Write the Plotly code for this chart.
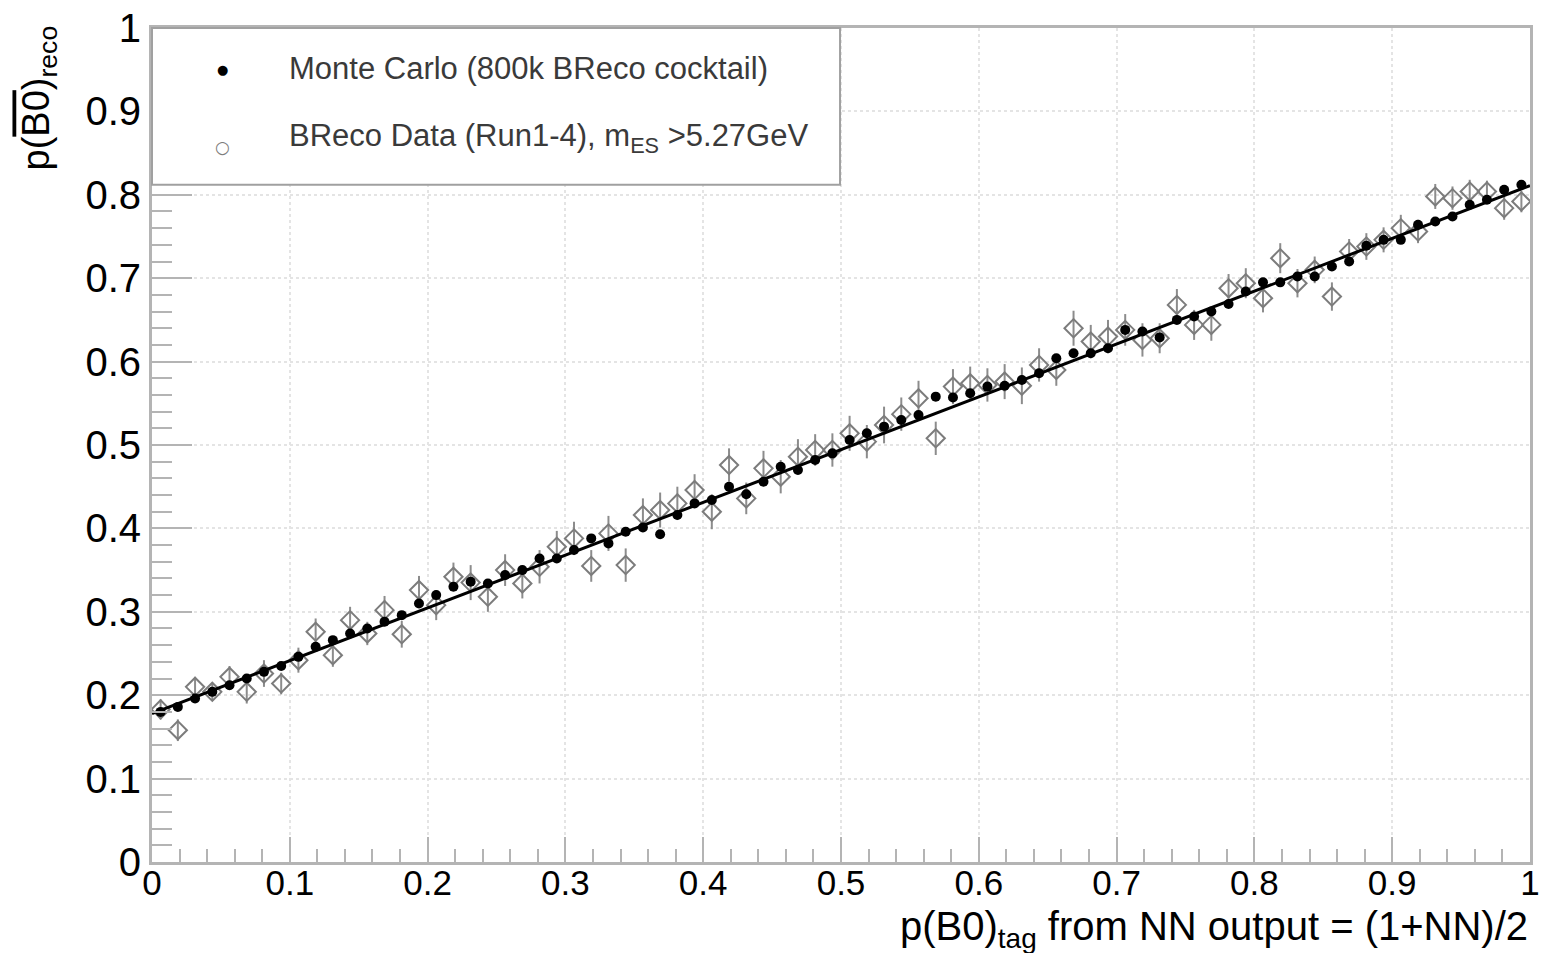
import numpy as np
import plotly.graph_objects as go

# 80 equal bins of p(B0)_tag on [0, 1]
n_bins = 80
bin_centers = (np.arange(n_bins) + 0.5) / n_bins

# Monte Carlo (800k BReco cocktail): p(B0bar)_reco per bin
mc_values = [
    0.180, 0.186, 0.196, 0.204, 0.212, 0.220, 0.228, 0.235, 0.246, 0.258,
    0.266, 0.274, 0.280, 0.288, 0.296, 0.310, 0.320, 0.330, 0.336, 0.334,
    0.344, 0.350, 0.364, 0.364, 0.374, 0.388, 0.382, 0.396, 0.401, 0.393,
    0.416, 0.430, 0.434, 0.450, 0.441, 0.456, 0.474, 0.470, 0.482, 0.490,
    0.506, 0.514, 0.522, 0.530, 0.536, 0.558, 0.557, 0.562, 0.570, 0.571,
    0.578, 0.586, 0.604, 0.610, 0.610, 0.616, 0.638, 0.636, 0.629, 0.650,
    0.654, 0.660, 0.669, 0.684, 0.695, 0.695, 0.702, 0.702, 0.714, 0.720,
    0.739, 0.746, 0.746, 0.764, 0.768, 0.774, 0.788, 0.794, 0.806, 0.812,
]

# BReco data (Run1-4), mES > 5.27 GeV
data_values = [
    0.183, 0.158, 0.210, 0.204, 0.222, 0.204, 0.226, 0.214, 0.242, 0.276,
    0.248, 0.290, 0.274, 0.302, 0.273, 0.326, 0.308, 0.342, 0.335, 0.318,
    0.350, 0.334, 0.354, 0.378, 0.388, 0.355, 0.394, 0.356, 0.416, 0.422,
    0.430, 0.446, 0.420, 0.476, 0.436, 0.472, 0.462, 0.486, 0.494, 0.494,
    0.514, 0.504, 0.524, 0.537, 0.556, 0.508, 0.570, 0.574, 0.572, 0.576,
    0.571, 0.596, 0.590, 0.640, 0.624, 0.630, 0.638, 0.626, 0.628, 0.668,
    0.644, 0.644, 0.688, 0.694, 0.676, 0.724, 0.694, 0.710, 0.678, 0.732,
    0.738, 0.746, 0.760, 0.756, 0.798, 0.796, 0.804, 0.804, 0.784, 0.792,
]
data_errors = [
    0.012, 0.013, 0.012, 0.011, 0.013, 0.014, 0.016, 0.013, 0.015, 0.016,
    0.014, 0.016, 0.014, 0.017, 0.016, 0.017, 0.018, 0.017, 0.021, 0.018,
    0.019, 0.018, 0.020, 0.019, 0.020, 0.019, 0.021, 0.020, 0.020, 0.021,
    0.020, 0.019, 0.021, 0.020, 0.019, 0.021, 0.020, 0.021, 0.019, 0.020,
    0.021, 0.020, 0.022, 0.020, 0.021, 0.020, 0.021, 0.020, 0.020, 0.021,
    0.022, 0.020, 0.019, 0.021, 0.020, 0.020, 0.019, 0.020, 0.018, 0.019,
    0.018, 0.019, 0.017, 0.018, 0.017, 0.018, 0.017, 0.016, 0.017, 0.015,
    0.016, 0.015, 0.016, 0.014, 0.015, 0.014, 0.014, 0.013, 0.014, 0.013,
]

# Straight-line fit endpoints
fit_x = [0.0, 1.0]
fit_y = [0.178, 0.811]

x_ticks = [0.0, 0.1, 0.2, 0.3, 0.4, 0.5, 0.6, 0.7, 0.8, 0.9, 1.0]
x_tick_labels = ["0", "0.1", "0.2", "0.3", "0.4", "0.5", "0.6", "0.7", "0.8", "0.9", "1"]
y_ticks = x_ticks
y_tick_labels = x_tick_labels

FONT = "Liberation Sans, Arial, Helvetica, sans-serif"
AXIS_GREY = "#b4b4b4"
GRID_GREY = "#e4e4e4"

fig = go.Figure()

fig.add_trace(go.Scatter(
    x=bin_centers, y=data_values, mode="markers",
    marker=dict(symbol="diamond-open", size=14, color="#7c7c7c",
                line=dict(width=2, color="#7c7c7c")),
    error_y=dict(type="data", array=data_errors, color="#8c8c8c",
                 thickness=2, width=0),
    showlegend=False,
))
fig.add_trace(go.Scatter(
    x=fit_x, y=fit_y, mode="lines",
    line=dict(color="black", width=3), showlegend=False,
))
fig.add_trace(go.Scatter(
    x=bin_centers, y=mc_values, mode="markers",
    marker=dict(symbol="circle", size=10, color="black"),
    showlegend=False,
))

axis_common = dict(
    range=[0, 1], showgrid=True, gridcolor=GRID_GREY, gridwidth=2,
    griddash="dot", zeroline=False, showline=True, mirror=True,
    linecolor=AXIS_GREY, linewidth=3, ticks="inside", tickwidth=2,
    tickcolor=AXIS_GREY, tickmode="array", automargin=False,
)

fig.update_xaxes(
    **axis_common, tickvals=x_ticks, ticktext=x_tick_labels, ticklen=25,
    ticklabelstandoff=-12,
    tickfont=dict(family=FONT, size=35, color="black"),
    minor=dict(dtick=0.02, ticks="inside", ticklen=13, tickwidth=2,
               tickcolor=AXIS_GREY, showgrid=False),
)
fig.update_yaxes(
    **axis_common, tickvals=y_ticks, ticktext=y_tick_labels, ticklen=40,
    tickfont=dict(family=FONT, size=40, color="black"),
    minor=dict(dtick=0.02, ticks="inside", ticklen=20, tickwidth=2,
               tickcolor=AXIS_GREY, showgrid=False),
)

# Legend box drawn by hand
legend_right = 0.4993
legend_bottom = 0.812
fig.add_shape(type="rect", xref="paper", yref="paper",
              x0=0, x1=legend_right, y0=legend_bottom, y1=1.0,
              line=dict(color="#a0a0a0", width=2), fillcolor="white",
              layer="above")

legend_font = dict(family=FONT, size=31, color="#3a3a3a")
fig.add_annotation(xref="paper", yref="paper", x=0.0508, y=0.950,
                   text="●", showarrow=False, xanchor="center", yanchor="middle",
                   font=dict(family="DejaVu Sans", size=13, color="black"))
fig.add_annotation(xref="paper", yref="paper", x=0.0508, y=0.857,
                   text="○", showarrow=False, xanchor="center", yanchor="middle",
                   font=dict(family="DejaVu Sans", size=17, color="#7c7c7c"))
fig.add_annotation(xref="paper", yref="paper", x=0.0977, y=0.952,
                   text="Monte Carlo (800k BReco cocktail)", showarrow=False,
                   xanchor="left", yanchor="middle", font=legend_font)
fig.add_annotation(xref="paper", yref="paper", x=0.0977, y=0.868,
                   text="BReco Data (Run1-4), m<sub>ES</sub> >5.27GeV",
                   showarrow=False, xanchor="left", yanchor="middle",
                   font=legend_font)

# Axis titles
fig.add_annotation(xref="paper", yref="paper", x=1.0, y=-0.080,
                   text="p(B0)<sub>tag</sub> from NN output = (1+NN)/2",
                   showarrow=False, xanchor="right", yanchor="middle",
                   font=dict(family=FONT, size=40, color="black"))
fig.add_annotation(xref="paper", yref="paper", x=-0.0813, y=1.006,
                   text='p(<span style="text-decoration:overline">B0</span>)<sub>reco</sub>',
                   textangle=-90, showarrow=False, xanchor="center", yanchor="top",
                   font=dict(family=FONT, size=38, color="black"))

fig.update_layout(
    width=1541, height=953, autosize=False,
    margin=dict(l=152, r=11, t=28, b=91),
    paper_bgcolor="white", plot_bgcolor="white",
    showlegend=False,
)

fig.write_html("out.html")
